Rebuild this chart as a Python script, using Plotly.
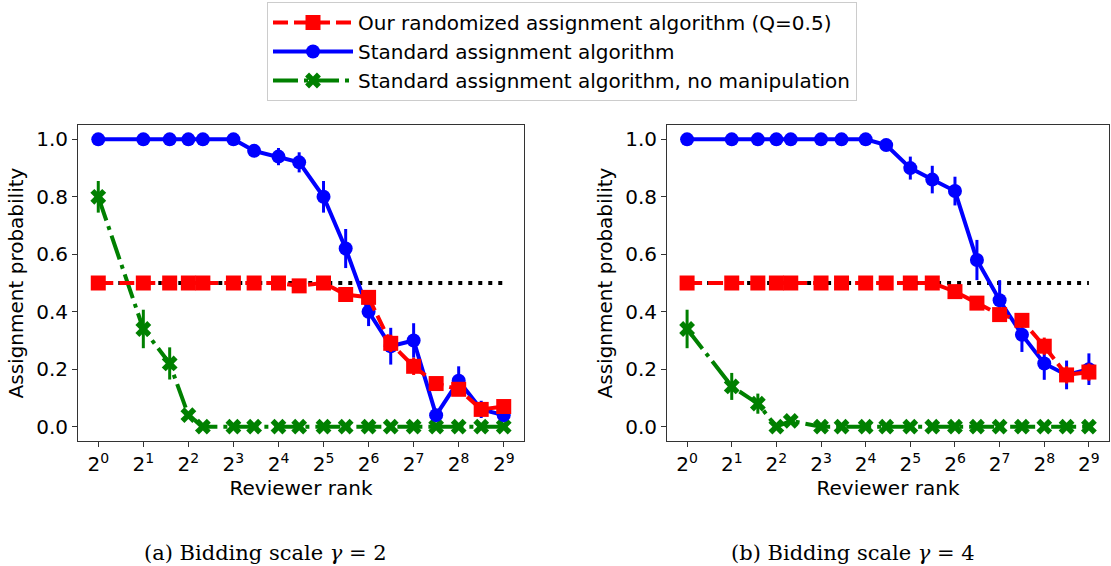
import numpy as np
import plotly.graph_objs as go
from plotly.subplots import make_subplots

# reviewer rank (x, log2 scale)
rank = [1, 2, 3, 4, 5, 8, 11, 16, 22, 32, 45, 64, 90, 128, 181, 256, 362, 512]

# (a) bidding scale gamma = 2
red_a = [0.5, 0.5, 0.5, 0.5, 0.5, 0.5, 0.5, 0.5, 0.49, 0.5, 0.46, 0.45, 0.29, 0.21, 0.15, 0.13, 0.06, 0.07]
red_a_err = [0, 0, 0, 0, 0, 0, 0, 0, 0.01, 0.01, 0.01, 0.02, 0.03, 0.03, 0.02, 0.02, 0.01, 0.02]
blue_a = [1.0, 1.0, 1.0, 1.0, 1.0, 1.0, 0.96, 0.94, 0.92, 0.80, 0.62, 0.40, 0.28, 0.30, 0.04, 0.16, 0.06, 0.04]
blue_a_err = [0, 0, 0, 0, 0, 0, 0.02, 0.03, 0.035, 0.055, 0.068, 0.05, 0.064, 0.06, 0.02, 0.05, 0.03, 0.02]
green_a = [0.80, 0.34, 0.22, 0.04, 0, 0, 0, 0, 0, 0, 0, 0, 0, 0, 0, 0, 0, 0]
green_a_err = [0.055, 0.067, 0.056, 0.01, 0, 0, 0, 0, 0, 0, 0, 0, 0, 0, 0, 0, 0, 0]

# (b) bidding scale gamma = 4
red_b = [0.5, 0.5, 0.5, 0.5, 0.5, 0.5, 0.5, 0.5, 0.5, 0.5, 0.5, 0.47, 0.43, 0.39, 0.37, 0.28, 0.18, 0.19]
red_b_err = [0, 0, 0, 0, 0, 0, 0, 0, 0, 0.01, 0.01, 0.015, 0.015, 0.02, 0.02, 0.03, 0.03, 0.03]
blue_b = [1.0, 1.0, 1.0, 1.0, 1.0, 1.0, 1.0, 1.0, 0.98, 0.90, 0.86, 0.82, 0.58, 0.44, 0.32, 0.22, 0.18, 0.20]
blue_b_err = [0, 0, 0, 0, 0, 0, 0, 0, 0.01, 0.04, 0.048, 0.05, 0.07, 0.07, 0.06, 0.057, 0.05, 0.055]
green_b = [0.34, 0.14, 0.08, 0, 0.02, 0, 0, 0, 0, 0, 0, 0, 0, 0, 0, 0, 0, 0]
green_b_err = [0.067, 0.047, 0.035, 0, 0.01, 0, 0, 0, 0, 0, 0, 0, 0, 0, 0, 0, 0, 0]

q_level = 0.5

names = ["Our randomized assignment algorithm (Q=0.5)",
         "Standard assignment algorithm",
         "Standard assignment algorithm, no manipulation"]
captions = ["(a) Bidding scale <i>γ</i> = 2", "(b) Bidding scale <i>γ</i> = 4"]
tick_pows = list(range(10))

W, H = 1111, 566
fig = make_subplots(rows=1, cols=2)

panels = [(red_a, red_a_err, blue_a, blue_a_err, green_a, green_a_err),
          (red_b, red_b_err, blue_b, blue_b_err, green_b, green_b_err)]

for i, (r, re, b, be, g, ge) in enumerate(panels):
    col = i + 1
    show = (i == 0)
    # dotted reference line at Q
    fig.add_trace(go.Scatter(x=[rank[0], rank[-1]], y=[q_level, q_level], mode="lines",
                             line=dict(color="black", width=4, dash="4px,6px"),
                             showlegend=False, hoverinfo="skip"), row=1, col=col)
    fig.add_trace(go.Scatter(x=rank, y=g, mode="lines+markers", name=names[2],
                             line=dict(color="green", width=4, dash="25px,6px,4px,6px"),
                             marker=dict(symbol="x", size=14, color="green"),
                             error_y=dict(type="data", array=ge, color="green", thickness=3, width=0),
                             showlegend=show, legendrank=3), row=1, col=col)
    fig.add_trace(go.Scatter(x=rank, y=b, mode="lines+markers", name=names[1],
                             line=dict(color="blue", width=4),
                             marker=dict(symbol="circle", size=14, color="blue"),
                             error_y=dict(type="data", array=be, color="blue", thickness=3, width=0),
                             showlegend=show, legendrank=2), row=1, col=col)
    fig.add_trace(go.Scatter(x=rank, y=r, mode="lines+markers", name=names[0],
                             line=dict(color="red", width=4, dash="15px,6px"),
                             marker=dict(symbol="square", size=15, color="red"),
                             error_y=dict(type="data", array=re, color="red", thickness=3, width=0),
                             showlegend=show, legendrank=1), row=1, col=col)

axis_font = dict(family="DejaVu Sans", size=20, color="black")
l2 = np.log10(2)
x_domains = [[78 / W, 524 / W], [667 / W, 1109 / W]]
for i in range(2):
    col = i + 1
    fig.update_xaxes(type="log", range=[-0.45 * l2, 9.45 * l2], domain=x_domains[i],
                     tickvals=[2 ** k for k in tick_pows],
                     ticktext=["2<sup>%d</sup>" % k for k in tick_pows],
                     ticks="outside", ticklen=5, tickcolor="#333", tickfont=axis_font,
                     showline=True, linecolor="#333", linewidth=1, mirror=True,
                     showgrid=False, zeroline=False,
                     title=dict(text="Reviewer rank", font=axis_font, standoff=2),
                     row=1, col=col)
    fig.update_yaxes(range=[-0.05, 1.05], domain=[1 - 441 / H, 1 - 125 / H],
                     tickvals=[0, 0.2, 0.4, 0.6, 0.8, 1.0], tickformat=".1f",
                     ticks="outside", ticklen=5, tickcolor="#333", tickfont=axis_font,
                     showline=True, linecolor="#333", linewidth=1, mirror=True,
                     showgrid=False, zeroline=False,
                     title=dict(text="Assignment probability", font=axis_font, standoff=7),
                     row=1, col=col)

for i, cap in enumerate(captions):
    fig.add_annotation(text=cap, x=[265 / W, 853 / W][i], y=1 - 553 / H,
                       xref="paper", yref="paper", showarrow=False,
                       xanchor="center", yanchor="middle",
                       font=dict(family="DejaVu Serif", size=21, color="black"))

fig.update_layout(width=W, height=H,
                  margin=dict(l=0, r=0, t=0, b=0),
                  plot_bgcolor="white", paper_bgcolor="white",
                  legend=dict(x=562 / W, y=1 - 2 / H, xanchor="center", yanchor="top",
                              bgcolor="white", bordercolor="#cccccc", borderwidth=1,
                              font=dict(family="DejaVu Sans", size=20, color="black"),
                              tracegroupgap=0, itemwidth=80))
# drop the default page margin so the figure sits at the window's top-left corner
fig.write_html("out.html", config={"displayModeBar": False},
               post_script="document.body.style.margin='0';")
